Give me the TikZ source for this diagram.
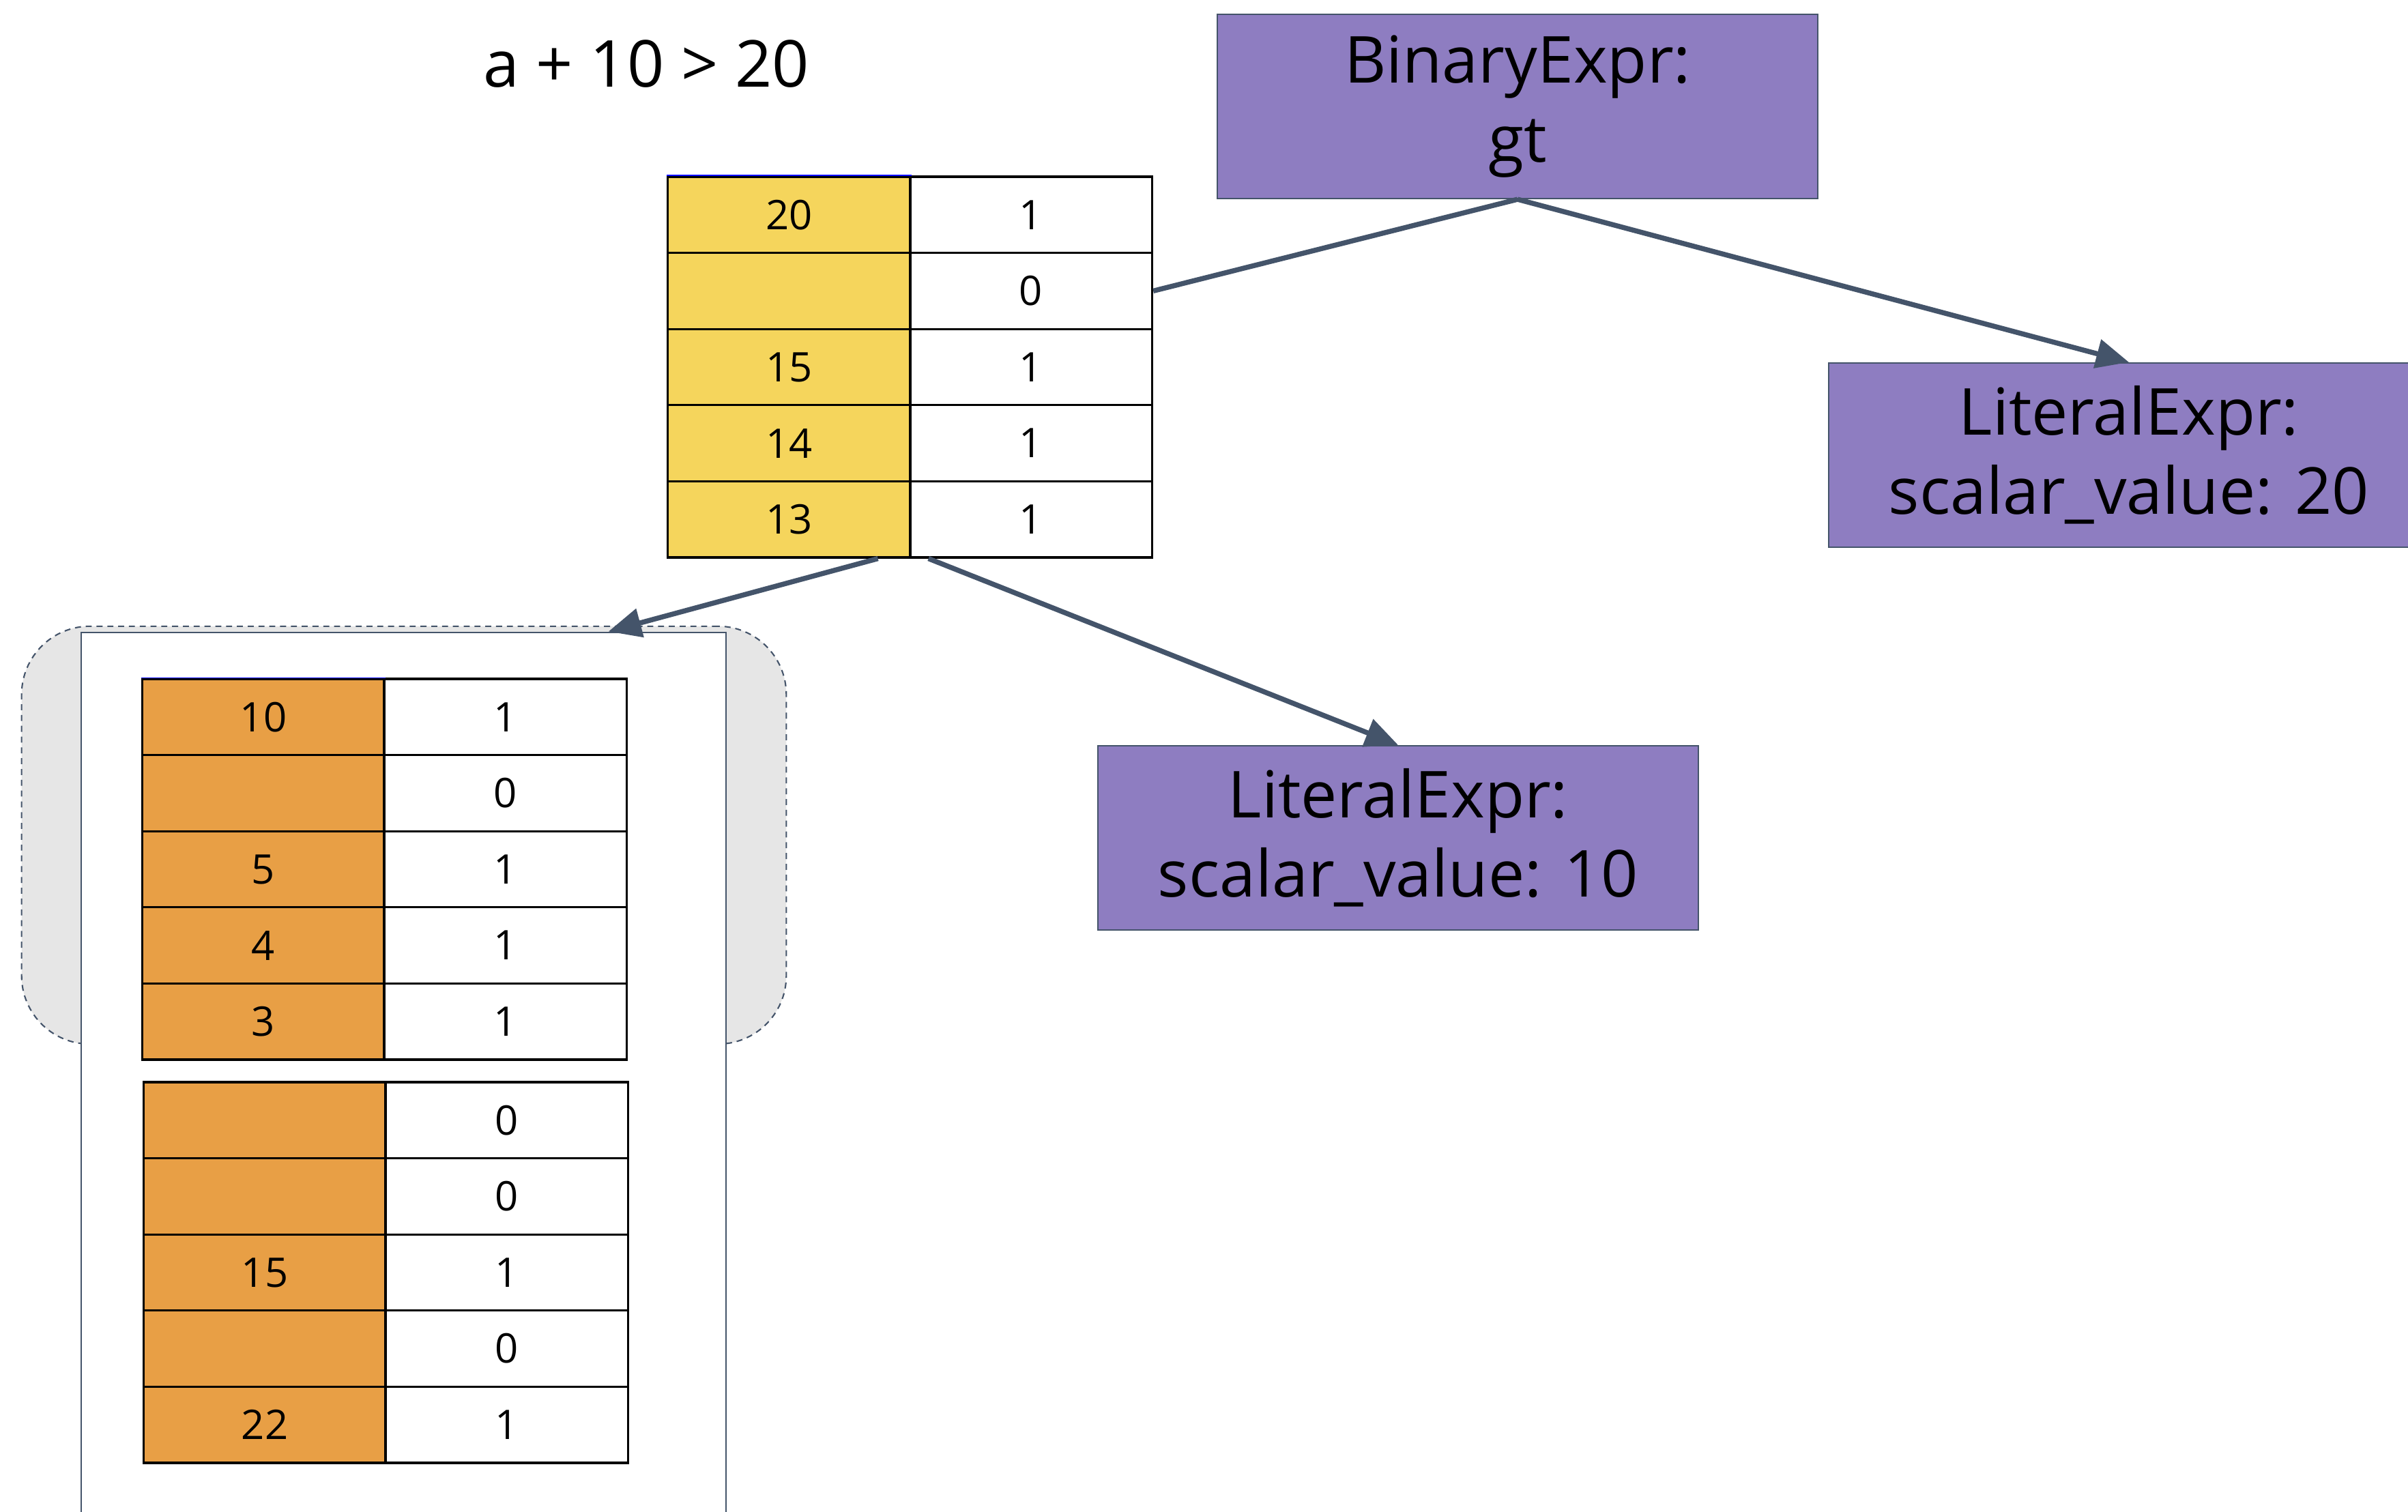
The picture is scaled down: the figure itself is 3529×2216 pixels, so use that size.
\documentclass[tikz,border=0pt]{standalone}
\usepackage{fontspec}
\setmainfont{Open Sans}
\usetikzlibrary{arrows.meta}

\definecolor{exprpurple}{RGB}{142,125,193}
\definecolor{valyellow}{RGB}{245,213,92}
\definecolor{valorange}{RGB}{232,159,69}
\definecolor{edgeslate}{RGB}{68,84,106}
\definecolor{groupgray}{RGB}{230,230,230}

\begin{document}
\begin{tikzpicture}[x=0.01cm, y=-0.01cm,
   expr/.style={rectangle, draw=edgeslate, line width=0.6pt, fill=exprpurple,
      minimum width=8.8cm, minimum height=2.7cm, align=center,
      font=\fontsize{27}{33}\selectfont},
   cell/.style={rectangle, draw=black, line width=0.9pt, inner sep=0pt,
      minimum width=3.55cm, minimum height=1.116cm,
      font=\fontsize{17}{20}\selectfont},
   link/.style={draw=edgeslate, line width=2.1pt},
   post/.style={link, -{Triangle[length=0.48cm, width=0.42cm]}}]

   \useasboundingbox (0,0) rectangle (3529,2216);

   \node (title) at (947,94) {\fontsize{27}{32}\selectfont a + 10 > 20};

   \node [expr] (bin)   at (2224,156)  {BinaryExpr:\\gt};
   \node [expr] (lit20) at (3120,667)  {LiteralExpr:\\scalar\_value: 20};
   \node [expr] (lit10) at (2049,1228) {LiteralExpr:\\scalar\_value: 10};

   % group behind the frame
   \node [rectangle, draw=edgeslate, dash pattern=on 2.5pt off 2pt, line width=0.6pt,
      fill=groupgray, rounded corners=1cm, minimum width=11.2cm, minimum height=6.12cm]
      (group) at (592,1224) {};
   \node [rectangle, draw=edgeslate, line width=0.6pt, fill=white,
      minimum width=9.45cm, minimum height=13.73cm]
      (frame) at (591.5,1613.5) {};

   \foreach [count=\i] \v/\b in {20/1, {}/0, 15/1, 14/1, 13/1} {
     \node [cell, fill=valyellow] (yl\i) at (1156.5, 203.2+111.6*\i) {\v};
     \node [cell] (yr\i) at (1511, 203.2+111.6*\i) {\b};
   }
   \foreach [count=\i] \v/\b in {10/1, {}/0, 5/1, 4/1, 3/1} {
     \node [cell, fill=valorange] (al\i) at (386, 939.2+111.6*\i) {\v};
     \node [cell] (ar\i) at (740.5, 939.2+111.6*\i) {\b};
   }
   \foreach [count=\i] \v/\b in {{}/0, {}/0, 15/1, {}/0, 22/1} {
     \node [cell, fill=valorange] (bl\i) at (388, 1530.2+111.6*\i) {\v};
     \node [cell] (br\i) at (742.5, 1530.2+111.6*\i) {\b};
   }
   \draw [blue, line width=0.5pt] (yl1.north west) -- (yl1.north east);
   \draw [blue, line width=0.5pt] (al1.north west) -- (al1.north east);

   \draw [link] (bin.south) -- (yr2.east);
   \draw [post] (bin.south) -- (lit20.north);
   \draw [post] ([xshift=-0.49cm]yl5.south east) -- ([xshift=3cm]frame.north);
   \draw [post] ([xshift=0.25cm]yl5.south east) -- (lit10.north);
\end{tikzpicture}
\end{document}
